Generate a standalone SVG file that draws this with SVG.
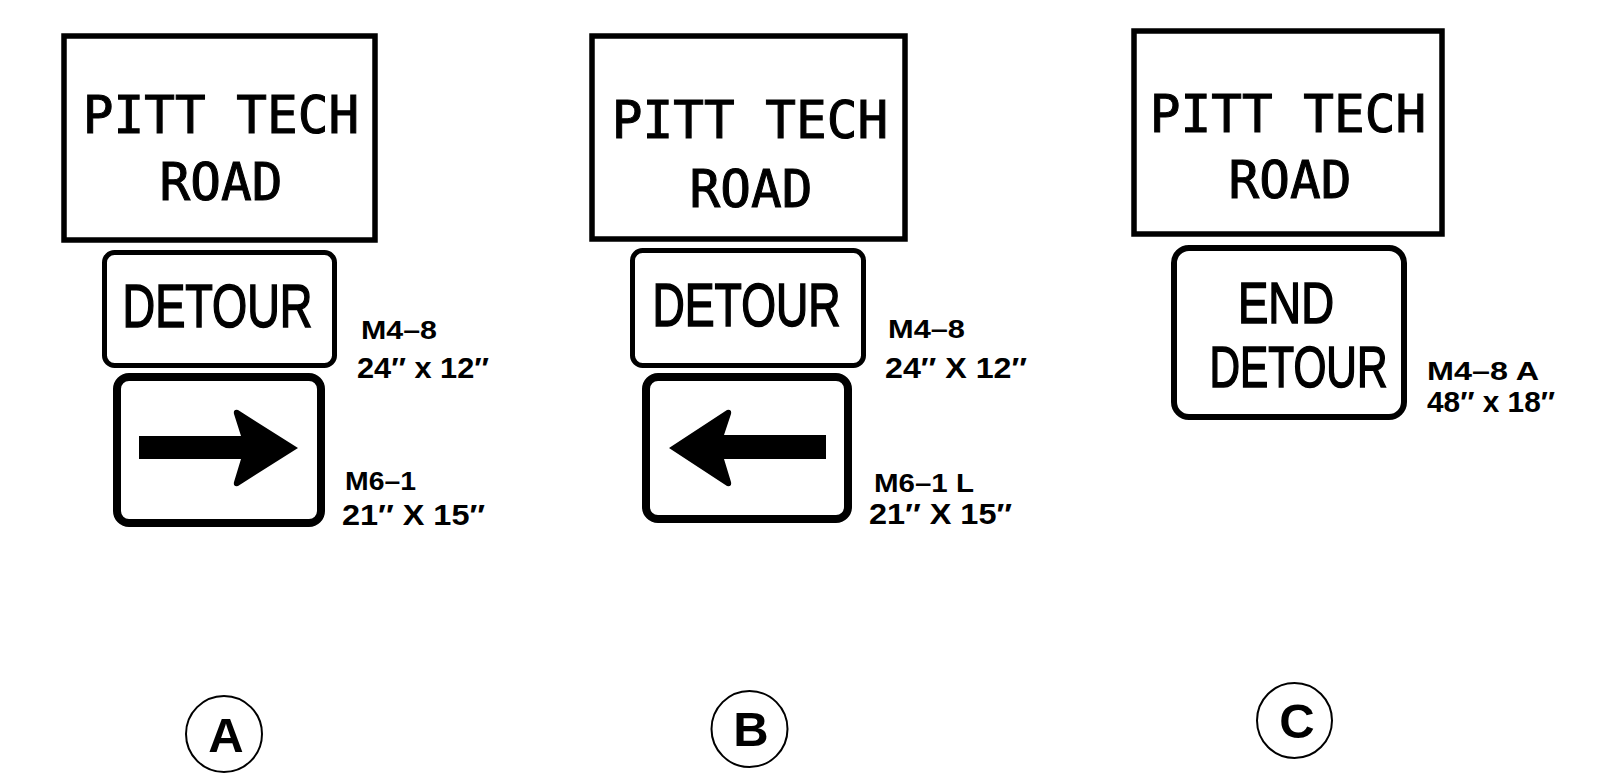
<svg xmlns="http://www.w3.org/2000/svg" width="1602" height="780" viewBox="0 0 1602 780">
<style>
.bg{fill:#fff}
.frame{fill:#fff;stroke:#000;stroke-width:5.5}
.plaque{fill:#fff;stroke:#000;stroke-width:5}
.arrowsign{fill:#fff;stroke:#000;stroke-width:8}
.mono{font-family:"DejaVu Sans Mono","Liberation Mono",monospace;font-size:51px;fill:#000;stroke:#000;stroke-width:1;text-anchor:middle}
.sign{font-family:"Liberation Sans","DejaVu Sans",sans-serif;font-size:61px;fill:#000;stroke:#000;stroke-width:1.6;text-anchor:middle}
.lbl{font-family:"Liberation Sans","DejaVu Sans",sans-serif;font-weight:bold;fill:#000}
.m{font-size:26px}
.d{font-size:29px}
.circ{fill:#fff;stroke:#000;stroke-width:2}
.letter{font-family:"Liberation Sans","DejaVu Sans",sans-serif;font-weight:bold;font-size:49px;fill:#000;text-anchor:middle}
</style>
<rect class="bg" x="0" y="0" width="1602" height="780"/>

<g id="signA">
  <g id="A-name">
    <rect class="frame" x="64" y="36" width="311" height="204"/>
    <text class="mono" x="221" y="133">PITT TECH</text>
    <text class="mono" x="221" y="200">ROAD</text>
  </g>
  <g id="A-detour">
    <rect class="plaque" x="104.5" y="252.5" width="230" height="113" rx="10"/>
    <text class="sign" x="217.5" y="327" textLength="190" lengthAdjust="spacingAndGlyphs">DETOUR</text>
    <text class="lbl m" x="361" y="339" textLength="76" lengthAdjust="spacingAndGlyphs">M4–8</text>
    <text class="lbl d" x="357" y="378" textLength="132" lengthAdjust="spacingAndGlyphs">24″ x 12″</text>
  </g>
  <g id="A-arrow">
    <rect class="arrowsign" x="117" y="377" width="204" height="146" rx="12"/>
    <path d="M139,436 L241,436 L234,414 Q233,409 238,410 L298,448 L238,486 Q233,487 234,482 L241,459 L139,459 Z" fill="#000"/>
    <text class="lbl m" x="345" y="490" textLength="71" lengthAdjust="spacingAndGlyphs">M6–1</text>
    <text class="lbl d" x="342" y="525" textLength="143" lengthAdjust="spacingAndGlyphs">21′′ X 15′′</text>
  </g>
  <g id="A-circle">
    <circle class="circ" cx="224" cy="734" r="38"/>
    <text class="letter" x="226" y="752">A</text>
  </g>
</g>

<g id="signB">
  <g id="B-name">
    <rect class="frame" x="592" y="36" width="313" height="203"/>
    <text class="mono" x="750" y="138">PITT TECH</text>
    <text class="mono" x="751" y="207">ROAD</text>
  </g>
  <g id="B-detour">
    <rect class="plaque" x="632.5" y="250.5" width="231" height="115" rx="10"/>
    <text class="sign" x="746.5" y="326" textLength="188" lengthAdjust="spacingAndGlyphs">DETOUR</text>
    <text class="lbl m" x="888" y="338" textLength="77" lengthAdjust="spacingAndGlyphs">M4–8</text>
    <text class="lbl d" x="885" y="378" textLength="142" lengthAdjust="spacingAndGlyphs">24′′ X 12′′</text>
  </g>
  <g id="B-arrow">
    <rect class="arrowsign" x="646" y="377" width="202" height="142" rx="12"/>
    <path d="M826,435 L724,435 L731,414 Q732,409 727,410 L669,448 L727,486 Q732,487 731,482 L724,459 L826,459 Z" fill="#000"/>
    <text class="lbl m" x="874" y="492" textLength="100" lengthAdjust="spacingAndGlyphs">M6–1 L</text>
    <text class="lbl d" x="869" y="524" textLength="143" lengthAdjust="spacingAndGlyphs">21′′ X 15′′</text>
  </g>
  <g id="B-circle">
    <circle class="circ" cx="749.5" cy="729" r="38"/>
    <text class="letter" x="751" y="746">B</text>
  </g>
</g>

<g id="signC">
  <g id="C-name">
    <rect class="frame" x="1134" y="31" width="308" height="203"/>
    <text class="mono" x="1288" y="132">PITT TECH</text>
    <text class="mono" x="1290" y="198">ROAD</text>
  </g>
  <g id="C-enddetour">
    <rect class="plaque" x="1174" y="248" width="230" height="169" rx="15" style="stroke-width:6"/>
    <text class="sign" x="1286" y="323" textLength="96" lengthAdjust="spacingAndGlyphs" style="font-size:57px">END</text>
    <text class="sign" x="1298.5" y="387" textLength="178" lengthAdjust="spacingAndGlyphs" style="font-size:58px">DETOUR</text>
    <text class="lbl m" x="1427" y="380" textLength="112" lengthAdjust="spacingAndGlyphs">M4–8  A</text>
    <text class="lbl d" x="1427" y="412" textLength="128" lengthAdjust="spacingAndGlyphs">48″ x 18″</text>
  </g>
  <g id="C-circle">
    <circle class="circ" cx="1294.5" cy="720.5" r="37.5"/>
    <text class="letter" x="1297" y="738">C</text>
  </g>
</g>
</svg>
